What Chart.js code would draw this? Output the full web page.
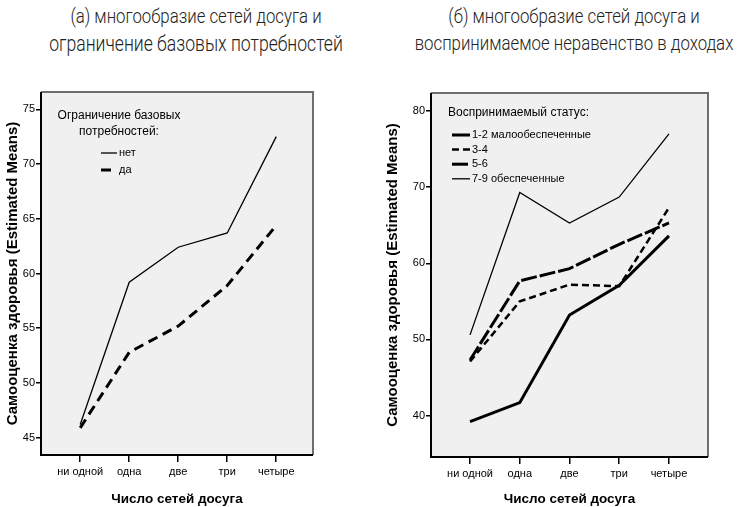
<!DOCTYPE html>
<html>
<head>
<meta charset="utf-8">
<script src="https://cdn.jsdelivr.net/npm/chart.js@4/dist/chart.umd.min.js"></script>
<style>
  html, body { margin: 0; padding: 0; background: #fff; }
  #wrap { position: relative; width: 754px; height: 507px; overflow: hidden; }
  canvas { position: absolute; top: 0; }
  .title {
    position: absolute; width: 420px; text-align: center;
    font-family: Roboto, "Noto Sans", sans-serif; font-weight: 300;
    font-size: 21px; color: #222; white-space: nowrap;
    transform: scaleX(0.8); transform-origin: center;
    line-height: 27px;
  }
</style>
</head>
<body>
<div id="wrap">
  <div class="title" style="left:-14px; top:3px;">(а) многообразие сетей досуга и<br><span style="font-size:22px">ограничение базовых потребностей</span></div>
  <div class="title" style="left:364px; top:3px;">(б) многообразие сетей досуга и<br>воспринимаемое неравенство в доходах</div>
  <canvas id="chartA" width="377" height="507" style="left:0"></canvas>
  <canvas id="chartB" width="377" height="507" style="left:377px"></canvas>
</div>
<script>
// categories on the x axis
const categories = ['ни одной', 'одна', 'две', 'три', 'четыре'];

// panel (a): ограничение базовых потребностей
const limitNo  = [46.2, 59.2, 62.4, 63.7, 72.5];
const limitYes = [45.9, 52.8, 55.2, 58.9, 64.4];
const ticksA   = [45, 50, 55, 60, 65, 70, 75];

// panel (b): воспринимаемый статус
const status12 = [39.2, 41.7, 53.2, 57.1, 63.6];
const status34 = [47.1, 55.0, 57.2, 57.0, 67.3];
const status56 = [47.3, 57.7, 59.3, 62.5, 65.3];
const status79 = [50.6, 69.3, 65.3, 68.7, 77.0];
const ticksB   = [40, 50, 60, 70, 80];

const pts = vals => vals.map((v, i) => ({x: i, y: v}));

// grey plot background + frame, SPSS style
const framePlugin = {
    id: 'frame',
    beforeDatasetsDraw(chart) {
        const {ctx, chartArea: a} = chart;
        ctx.save();
        ctx.fillStyle = '#f0f0f0';
        ctx.fillRect(a.left, a.top, a.right - a.left, a.bottom - a.top);
        ctx.restore();
    },
    afterDraw(chart) {
        const {ctx, chartArea: a} = chart;
        ctx.save();
        ctx.strokeStyle = '#6e6e6e';
        ctx.lineWidth = 2;
        ctx.beginPath();
        ctx.moveTo(a.left, a.top);
        ctx.lineTo(a.right, a.top);
        ctx.lineTo(a.right, a.bottom);
        ctx.stroke();
        ctx.strokeStyle = '#000';
        ctx.beginPath();
        ctx.moveTo(a.left, a.top);
        ctx.lineTo(a.left, a.bottom);
        ctx.lineTo(a.right, a.bottom);
        ctx.stroke();
        ctx.restore();
    }
};

// legend drawn inside the plot area
const innerLegend = {
    id: 'innerLegend',
    afterDatasetsDraw(chart, args, opts) {
        const ctx = chart.ctx;
        ctx.save();
        ctx.fillStyle = '#000';
        ctx.textBaseline = 'middle';
        ctx.font = '12px "Liberation Sans", Arial, sans-serif';
        ctx.textAlign = opts.titleAlign;
        opts.title.forEach((t, i) => ctx.fillText(t, opts.titleX, opts.titleY + i * 16));
        ctx.textAlign = 'left';
        ctx.font = '11px "Liberation Sans", Arial, sans-serif';
        chart.data.datasets.forEach((ds, i) => {
            const y = opts.itemY + i * opts.itemStep;
            ctx.strokeStyle = '#000';
            ctx.lineWidth = ds.borderWidth;
            ctx.setLineDash(ds.borderDash || []);
            ctx.beginPath();
            ctx.moveTo(opts.lineX, y);
            ctx.lineTo(opts.lineX + opts.lineLen, y);
            ctx.stroke();
            ctx.setLineDash([]);
            ctx.fillText(ds.label, opts.lineX + opts.lineLen + 2, y);
        });
        ctx.restore();
    }
};

function makeChart(id, datasets, yMin, yMax, yTicks, xMin, xMax, pad, yWidth, xHeight, legend) {
    return new Chart(document.getElementById(id), {
        type: 'line',
        data: {datasets},
        plugins: [framePlugin, innerLegend],
        options: {
            responsive: false,
            animation: false,
            layout: {padding: pad},
            elements: {point: {radius: 0}, line: {tension: 0, borderColor: '#000', fill: false}},
            plugins: {legend: {display: false}, tooltip: {enabled: false}, innerLegend: legend},
            scales: {
                x: {
                    type: 'linear', min: xMin, max: xMax,
                    afterBuildTicks: s => { s.ticks = categories.map((c, i) => ({value: i})); },
                    afterFit: s => { s.height = xHeight; },
                    ticks: {
                        callback: v => categories[v],
                        color: '#000', padding: 3, maxRotation: 0, autoSkip: false,
                        font: {family: '"Liberation Sans", Arial', size: 11}
                    },
                    grid: {drawOnChartArea: false, drawTicks: true, tickLength: 7, color: '#000', lineWidth: 1.5},
                    border: {display: false},
                    title: {
                        display: true, text: 'Число сетей досуга', color: '#000',
                        font: {family: '"Liberation Sans", Arial', size: 13.5, weight: 'bold'},
                        padding: {top: 0, bottom: 0}
                    }
                },
                y: {
                    min: yMin, max: yMax,
                    afterBuildTicks: s => { s.ticks = yTicks.map(v => ({value: v})); },
                    afterFit: s => { s.width = yWidth; },
                    ticks: {color: '#000', padding: 1, font: {family: '"Liberation Sans", Arial', size: 11}},
                    grid: {drawOnChartArea: false, drawTicks: true, tickLength: 5, color: '#000', lineWidth: 1.5},
                    border: {display: false},
                    title: {
                        display: true, text: 'Самооценка здоровья (Estimated Means)', color: '#000',
                        font: {family: '"Liberation Sans", Arial', size: 15, weight: 'bold'},
                        padding: 0
                    }
                }
            }
        }
    });
}

makeChart('chartA', [
    {label: 'нет', data: pts(limitNo),  borderWidth: 1.3},
    {label: 'да',  data: pts(limitYes), borderWidth: 3, borderDash: [10, 6]}
], 43.42, 76.58, ticksA, -0.8, 4.75, {left: 4, top: 92, right: 64, bottom: 0}, 37, 52, {
    title: ['Ограничение базовых', 'потребностей:'], titleAlign: 'center', titleX: 119, titleY: 116,
    lineX: 101, lineLen: 16, itemY: 153, itemStep: 17
});

makeChart('chartB', [
    {label: '1-2 малообеспеченные', data: pts(status12), borderWidth: 3},
    {label: '3-4',                  data: pts(status34), borderWidth: 2.5, borderDash: [7, 4]},
    {label: '5-6',                  data: pts(status56), borderWidth: 3, borderDash: [16, 3]},
    {label: '7-9 обеспеченные',     data: pts(status79), borderWidth: 1.3}
], 34.56, 82.37, ticksB, -0.785, 4.785, {left: 7, top: 93, right: 46, bottom: 0}, 47, 50, {
    title: ['Воспринимаемый статус:'], titleAlign: 'left', titleX: 71, titleY: 113,
    lineX: 75, lineLen: 18, itemY: 135, itemStep: 14.6
});
</script>
</body>
</html>
